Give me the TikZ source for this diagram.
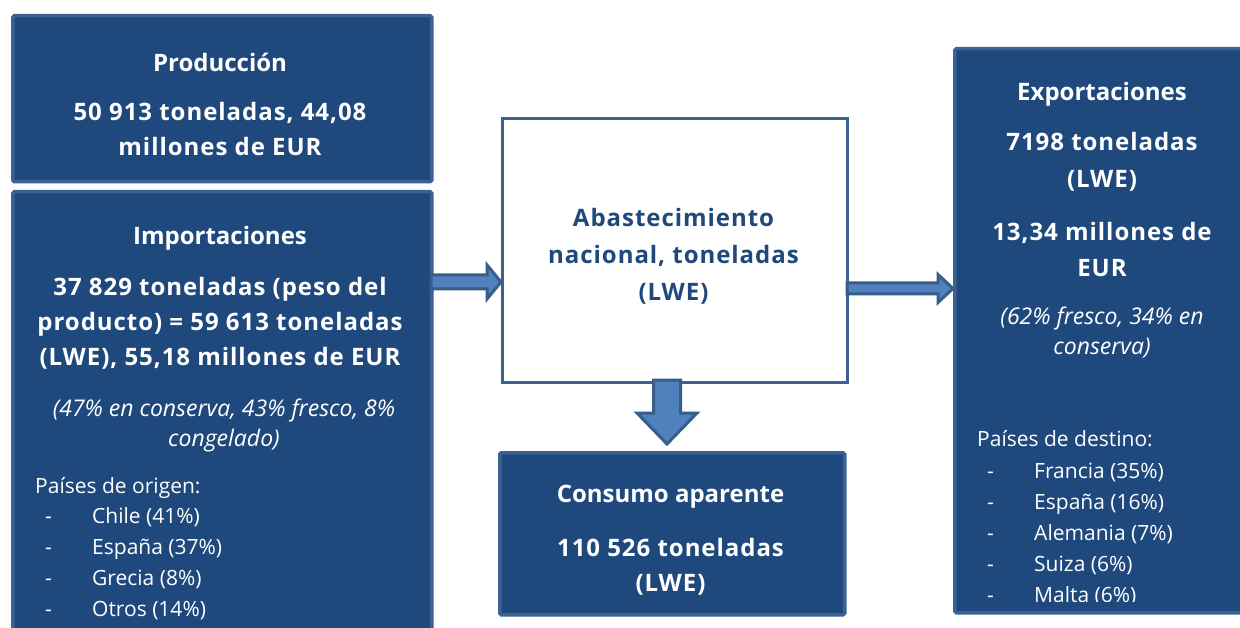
\documentclass[tikz,border=0pt]{standalone}
\usepackage{fontspec}
\setmainfont{Open Sans}
\usetikzlibrary{calc}
\definecolor{boxfill}{HTML}{1F497D}
\definecolor{boxedge}{HTML}{3A6293}
\definecolor{arrfill}{HTML}{4F81BD}
\definecolor{arredge}{HTML}{385D8A}
\newcommand\hblockarrow[5]{%
  \draw[blockarrow] ($(#1)+(0,-#3)$) -- ($(#2)+(-#5,-#3)$) -- ($(#2)+(-#5,-#4)$) -- (#2)
    -- ($(#2)+(-#5,#4)$) -- ($(#2)+(-#5,#3)$) -- ($(#1)+(0,#3)$) -- cycle;}
\newcommand\vblockarrow[5]{%
  \draw[blockarrow] ($(#1)+(-#3,0)$) -- ($(#2)+(-#3,-#5)$) -- ($(#2)+(-#4,-#5)$) -- (#2)
    -- ($(#2)+(#4,-#5)$) -- ($(#2)+(#3,-#5)$) -- ($(#1)+(#3,0)$) -- cycle;}
\begin{document}
\begin{tikzpicture}[x=1pt,y=-1pt,
  bluebox/.style={draw=boxedge, line width=3.5pt, fill=boxfill, rounded corners=1.5pt, anchor=north west, inner sep=0pt},
  whitebox/.style={draw=boxedge, line width=3pt, fill=white, anchor=north west, inner sep=0pt},
  blockarrow/.style={draw=arredge, line width=3pt, fill=arrfill, line join=miter},
  boldtxt/.style={text=white, font=\bfseries\fontsize{24}{35}\selectfont, align=center, inner sep=0pt},
  valtxt/.style={text=white, font=\bfseries\fontsize{24}{35}\selectfont\addfontfeature{LetterSpace=4}, align=center, inner sep=0pt},
  darktxt/.style={text=boxfill, font=\bfseries\fontsize{24}{37}\selectfont\addfontfeature{LetterSpace=4}, align=center, inner sep=0pt},
  itxt/.style={text=white, font=\itshape\fontsize{23}{30}\selectfont, align=center, inner sep=0pt},
  ltxt/.style={text=white, font=\fontsize{21}{30}\selectfont, anchor=mid west, inner sep=0pt, yshift=-4pt}]
\clip (0,0) rectangle (1240,628);
\fill[white] (0,0) rectangle (1240,628);

% boxes
\node[bluebox, minimum width=419pt, minimum height=166pt] (prod) at (11,14) {};
\node[bluebox, minimum width=419pt, minimum height=470pt] (imp) at (11,190) {};
\node[whitebox, minimum width=345pt, minimum height=264pt] (aba) at (501,117) {};
\node[bluebox, minimum width=345pt, minimum height=162pt] (cons) at (498,451) {};
\node[bluebox, minimum width=320pt, minimum height=564pt] (exp) at (953,47) {};

% arrows
\coordinate (a1s) at (431,282);
\coordinate (a1e) at (aba.west |- a1s);
\hblockarrow{a1s}{a1e}{7}{17}{14}
\coordinate (a2s) at (847,288.5);
\coordinate (a2e) at (exp.west |- a2s);
\hblockarrow{a2s}{a2e}{5.5}{14}{15}
\coordinate (a3s) at (667,380);
\coordinate (a3e) at (667,444);
\vblockarrow{a3s}{a3e}{13.5}{30}{31}

% Producción
\node[boldtxt] (prodT) at (220,62) {Producción};
\node[valtxt] (prodV) at (220,129) {50 913 toneladas, 44,08\\millones de EUR};

% Importaciones
\node[boldtxt] (impT) at (220,238) {Importaciones};
\node[valtxt] (impV) at (220,323) {37 829 toneladas (peso del\\producto) = 59 613 toneladas\\(LWE), 55,18 millones de EUR};
\node[itxt] (impP) at (224,425) {(47\% en conserva, 43\% fresco, 8\%\\congelado)};
\node[ltxt] (impL) at (35,487) {Países de origen:};
\foreach \t/\y [count=\i] in {Chile (41\%)/517, España (37\%)/548, Grecia (8\%)/579, Otros (14\%)/610}{
  \node[ltxt] (impd\i) at (45,\y) {-};
  \node[ltxt] (impc\i) at (92,\y) {\t};
}

% Abastecimiento
\node[darktxt] (abaT) at (673.5,256) {Abastecimiento\\nacional, toneladas\\(LWE)};

% Consumo
\node[boldtxt] (consT) at (670.5,497) {Consumo aparente};
\node[valtxt] (consV) at (670.5,566.5) {110 526 toneladas\\(LWE)};

% Exportaciones
\node[boldtxt] (expT) at (1102,94) {Exportaciones};
\node[valtxt, font=\bfseries\fontsize{24}{37}\selectfont\addfontfeature{LetterSpace=4}] (expV) at (1102,161.5) {7198 toneladas\\(LWE)};
\node[valtxt, font=\bfseries\fontsize{24}{36}\selectfont\addfontfeature{LetterSpace=4}] (expE) at (1102,250) {13,34 millones de\\EUR};
\node[itxt] (expP) at (1102,333) {(62\% fresco, 34\% en\\conserva)};
\begin{scope}
\clip (953,47) rectangle (1240,601);
\node[ltxt] (expL) at (977,440) {Países de destino:};
\foreach \t/\y [count=\i] in {Francia (35\%)/472, España (16\%)/503, Alemania (7\%)/534, Suiza (6\%)/565, Malta (6\%)/596}{
  \node[ltxt] (expd\i) at (987,\y) {-};
  \node[ltxt] (expc\i) at (1034,\y) {\t};
}
\end{scope}
\end{tikzpicture}
\end{document}
